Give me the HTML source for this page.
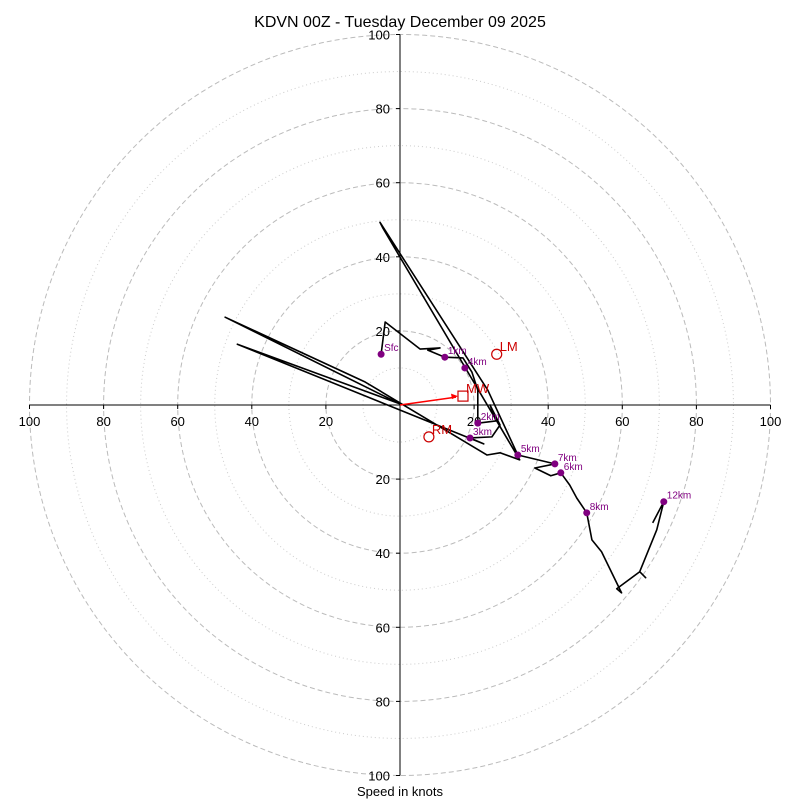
<!DOCTYPE html>
<html><head><meta charset="utf-8"><style>
body{margin:0;background:#fff}
svg text{font-family:"Liberation Sans","DejaVu Sans",sans-serif}
</style></head><body>
<svg id="c" width="800" height="800" xmlns="http://www.w3.org/2000/svg"></svg>
<script>
const ringsDashed=[20,40,60,80,100];
const ringsDotted=[10,30,50,70,90];
const tickValues=[20,40,60,80,100];
const traceU=[-5.1,-4.0,5.4,10.8,7.5,12.1,17.0,19.4,21.0,21.0,25.9,24.3,27.0,24.8,18.9,22.6,-43.9,0,-47.2,-9.4,23.5,27.0,32.3,-4.6,-5.4,23.7,31.8,41.8,36.4,40.7,43.4,45.8,47.7,50.4,51.8,54.4,59.8,58.5,64.7,66.3,64.7,69.3,71.2,68.2];
const traceV=[13.7,22.4,15.1,15.4,14.8,12.9,12.7,8.9,4.0,-4.9,-4.3,0,-5.4,-8.6,-8.9,-10.5,16.4,0.3,23.7,6.2,-13.5,-12.9,-14.8,47.7,49.3,4.0,-13.5,-15.9,-17.0,-19.1,-18.3,-21.6,-25.1,-29.1,-36.4,-39.6,-50.7,-49.6,-45.0,-46.6,-45.0,-33.7,-26.1,-31.8];
const markerLabels=["Sfc","1km","4km","2km","3km","5km","7km","6km","8km","12km"];
const markerU=[-5.1,12.1,17.5,21.0,18.9,31.8,41.8,43.4,50.4,71.2];
const markerV=[13.7,12.9,10.0,-4.9,-8.9,-13.5,-15.9,-18.3,-29.1,-26.1];
const mwU=17.0, mwV=2.4, lmU=26.1, lmV=13.7, rmU=7.8, rmV=-8.6;

const NS="http://www.w3.org/2000/svg", svg=document.getElementById('c');
const cx=400, cy=405, k=3.705;
const X=u=>cx+u*k, Y=v=>cy-v*k;
function el(t,a,txt){const e=document.createElementNS(NS,t);for(const n in a)e.setAttribute(n,a[n]);if(txt!=null)e.textContent=txt;svg.appendChild(e);return e;}

ringsDotted.forEach(r=>{const e=el('circle',{cx:cx,cy:cy,r:r*k,fill:'none',stroke:'#ccc','stroke-width':1,'stroke-dasharray':'1,3'});

});
ringsDashed.forEach(r=>{const e=el('circle',{cx:cx,cy:cy,r:r*k,fill:'none',stroke:'#bbb','stroke-width':1,'stroke-dasharray':'5,3'});

});
let a=el('line',{x1:X(-100),y1:cy,x2:X(100),y2:cy,stroke:'#000','stroke-width':1});


a=el('line',{x1:cx,y1:Y(100),x2:cx,y2:Y(-100),stroke:'#000','stroke-width':1});


tickValues.forEach(t=>{[t,-t].forEach(s=>{
 el('line',{x1:X(s),y1:cy,x2:X(s),y2:cy+4,stroke:'#000'});
 let tx=el('text',{x:X(s),y:cy+21,'text-anchor':'middle','font-size':13},t);
 
 
 el('line',{x1:cx-4,y1:Y(s),x2:cx,y2:Y(s),stroke:'#000'});
 let ty=el('text',{x:cx-10,y:Y(s)+5,'text-anchor':'end','font-size':13},t);
 
 
});});
let pts=traceU.map((u,i)=>X(u)+','+Y(traceV[i])).join(' ');
let tr=el('polyline',{points:pts,fill:'none',stroke:'#000','stroke-width':1.6,'stroke-linejoin':'round'});


markerLabels.forEach((l,i)=>{
 let d=el('circle',{cx:X(markerU[i]),cy:Y(markerV[i]),r:3.5,fill:'purple'});
 
 
 let t=el('text',{x:X(markerU[i])+3,y:Y(markerV[i])-3,'font-size':10,fill:'purple'},l);
 
 
});
let ar=el('line',{x1:cx,y1:cy,x2:X(mwU)-7,y2:Y(mwV)+1,stroke:'red','stroke-width':1.5});


let ah=el('polygon',{points:`${X(mwU)-5},${Y(mwV)} ${X(mwU)-12},${Y(mwV)-2.5} ${X(mwU)-11},${Y(mwV)+3}`,fill:'red'});


let mw=el('rect',{x:X(mwU)-5,y:Y(mwV)-5,width:10,height:10,fill:'none',stroke:'#c00','stroke-width':1.2});


let mwt=el('text',{x:X(mwU)+3,y:Y(mwV)-3,'font-size':13,fill:'#c00'},'MW');


let lm=el('circle',{cx:X(lmU),cy:Y(lmV),r:5,fill:'none',stroke:'#c00','stroke-width':1.2});


let lmt=el('text',{x:X(lmU)+3,y:Y(lmV)-3,'font-size':13,fill:'#c00'},'LM');


let rm=el('circle',{cx:X(rmU),cy:Y(rmV),r:5,fill:'none',stroke:'#c00','stroke-width':1.2});


let rmt=el('text',{x:X(rmU)+3,y:Y(rmV)-3,'font-size':13,fill:'#c00'},'RM');


let ti=el('text',{x:400,y:27,'text-anchor':'middle','font-size':16},'KDVN 00Z - Tuesday December 09 2025');


let xl=el('text',{x:400,y:796,'text-anchor':'middle','font-size':13},'Speed in knots');


</script>
</body></html>
